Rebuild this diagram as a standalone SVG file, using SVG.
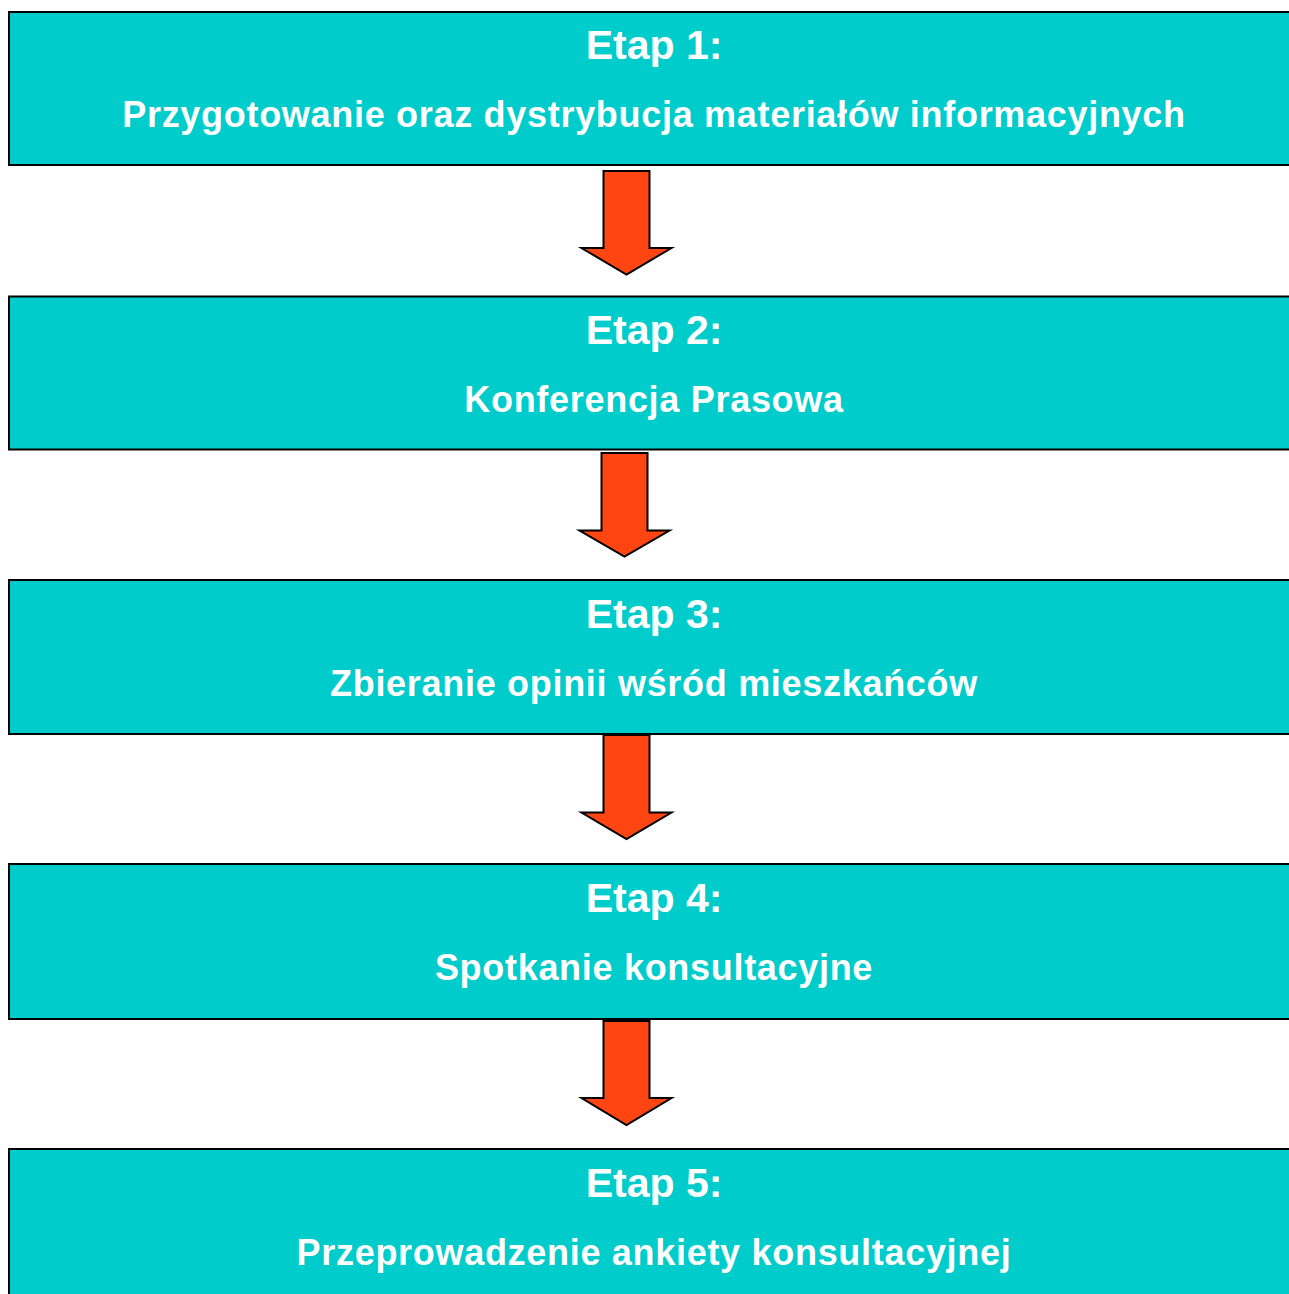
<svg xmlns="http://www.w3.org/2000/svg" width="1289" height="1294" viewBox="0 0 1289 1294">
<style>
.box{fill:#00CCCC;stroke:#000;stroke-width:2}
.t1{font-family:"Liberation Sans",Arial,sans-serif;font-weight:bold;font-size:41px;fill:#fff;text-anchor:middle}
.t2{font-family:"Liberation Sans",Arial,sans-serif;font-weight:bold;font-size:36px;letter-spacing:0.7px;fill:#fff;text-anchor:middle}
.arr{fill:#FF4512;stroke:#000;stroke-width:2;stroke-linejoin:miter}
</style>
<rect width="1289" height="1294" fill="#fff"/>
<g id="connectors">
<path class="arr" d="M603.5,171 H649.5 V248 H671.5 L626.5,274.5 L581.5,248 H603.5 Z"/>
<path class="arr" d="M601.5,453 H647.5 V530.5 H669.5 L624.5,556.5 L579.5,530.5 H601.5 Z"/>
<path class="arr" d="M603.5,735 H649.5 V812.5 H671.5 L626.5,839 L581.5,812.5 H603.5 Z"/>
<path class="arr" d="M603.5,1021 H649.5 V1098 H671.5 L626.5,1125 L581.5,1098 H603.5 Z"/>
</g>
<g id="etap1">
<rect class="box" x="9" y="12" width="1300" height="153"/>
<text class="t1" x="654" y="59">Etap 1:</text>
<text class="t2" x="654" y="127">Przygotowanie oraz dystrybucja materiałów informacyjnych</text>
</g>
<g id="etap2">
<rect class="box" x="9" y="296.5" width="1300" height="153"/>
<text class="t1" x="654" y="344">Etap 2:</text>
<text class="t2" x="654" y="412">Konferencja Prasowa</text>
</g>
<g id="etap3">
<rect class="box" x="9" y="580" width="1300" height="154"/>
<text class="t1" x="654" y="628">Etap 3:</text>
<text class="t2" x="654" y="696">Zbieranie opinii wśród mieszkańców</text>
</g>
<g id="etap4">
<rect class="box" x="9" y="864" width="1300" height="155"/>
<text class="t1" x="654" y="912">Etap 4:</text>
<text class="t2" x="654" y="980">Spotkanie konsultacyjne</text>
</g>
<g id="etap5">
<rect class="box" x="9" y="1149" width="1300" height="160"/>
<text class="t1" x="654" y="1197">Etap 5:</text>
<text class="t2" x="654" y="1265">Przeprowadzenie ankiety konsultacyjnej</text>
</g>
</svg>
